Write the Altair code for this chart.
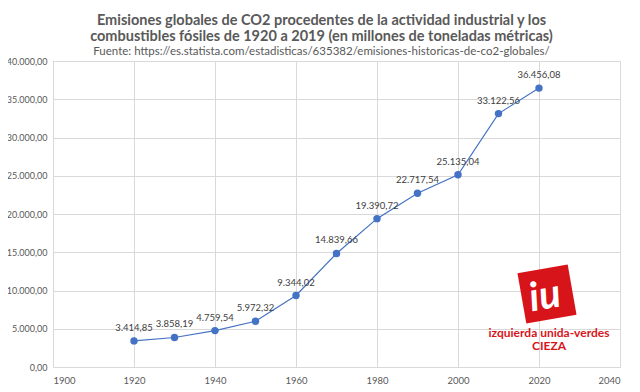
import altair as alt
import pandas as pd

years = [1920, 1930, 1940, 1950, 1960, 1970, 1980, 1990, 2000, 2010, 2020]
emissions = [3414.85, 3858.19, 4759.54, 5972.32, 9344.02, 14839.66,
             19390.72, 22717.54, 25135.04, 33122.56, 36456.08]
x_ticks = [1900, 1920, 1940, 1960, 1980, 2000, 2020, 2040]
y_ticks = [0, 5000, 10000, 15000, 20000, 25000, 30000, 35000, 40000]
title_lines = ["Emisiones  globales  de CO2 procedentes  de la actividad  industrial  y los",
               "combustibles  fósiles de 1920 a 2019 (en millones  de toneladas  métricas)"]
subtitle = "Fuente: https://es.statista.com/estadisticas/635382/emisiones-historicas-de-co2-globales/"

df = pd.DataFrame({"year": years, "value": emissions})

GRID = "#d9d9d9"
TXT = "#595959"
BLUE = "#4472C4"

x = alt.X("year:Q", scale=alt.Scale(domain=[1900, 2040], nice=False),
          axis=alt.Axis(values=x_ticks, format="d", title=None, grid=True,
                        gridColor=GRID, domain=False, ticks=False,
                        labelColor=TXT, labelFont="Lato", labelFontSize=9.5,
                        labelPadding=8))
y = alt.Y("value:Q", scale=alt.Scale(domain=[0, 40000], nice=False),
          axis=alt.Axis(values=y_ticks, format=",.2f", title=None, grid=True,
                        gridColor=GRID, domain=False, ticks=False,
                        labelColor=TXT, labelFont="Lato", labelFontSize=9,
                        labelPadding=6))

base = alt.Chart(df)
line = base.mark_line(color=BLUE, strokeWidth=1.2).encode(x=x, y=y)
pts = base.mark_circle(color=BLUE, size=55, opacity=1).encode(x=x, y=y)
labels = base.mark_text(dy=-13, fontSize=9.5, font="Lato", color="#404040").encode(
    x=x, y=y, text=alt.Text("value:Q", format=",.2f"))

logo_df = pd.DataFrame({"k": [0]})
logo_sq = alt.Chart(logo_df).mark_point(shape="square", filled=True, color="#d7141a",
                                        size=2600, angle=350, opacity=1).encode(
    x=alt.value(494), y=alt.value(233))
logo_iu = alt.Chart(logo_df).mark_text(text="iu", font="Lato", fontWeight="bold",
                                       fontStyle="italic", fontSize=40, color="white",
                                       angle=350).encode(
    x=alt.value(492), y=alt.value(236))
logo_t1 = alt.Chart(logo_df).mark_text(text="izquierda unida-verdes", font="Lato",
                                       fontWeight="bold", fontSize=12, color="#d7141a").encode(
    x=alt.value(496), y=alt.value(272))
logo_t2 = alt.Chart(logo_df).mark_text(text="CIEZA", font="Lato",
                                       fontWeight="bold", fontSize=12, color="#d7141a").encode(
    x=alt.value(496), y=alt.value(285))

chart = alt.layer(line, pts, labels, logo_sq, logo_iu, logo_t1, logo_t2).properties(
    width=567, height=306,
    title=alt.TitleParams(text=title_lines, subtitle=subtitle, anchor="middle",
                          dx=-15, font="Lato", fontSize=14.5, fontWeight="bold",
                          color=TXT, lineHeight=16, subtitleFont="Lato",
                          subtitleFontSize=11.5, subtitleColor=TXT, subtitlePadding=1,
                          offset=-1),
    padding={"left": 45, "top": 53, "right": 8, "bottom": 22},
    autosize=alt.AutoSizeParams(type="none"),
).configure_view(stroke=None).configure(background="white")

chart.save("out.html", embed_options={
    "renderer": "svg", "actions": False,
    "formatLocale": {"decimal": ",", "thousands": ".", "grouping": [3],
                     "currency": ["", " €"]}})
